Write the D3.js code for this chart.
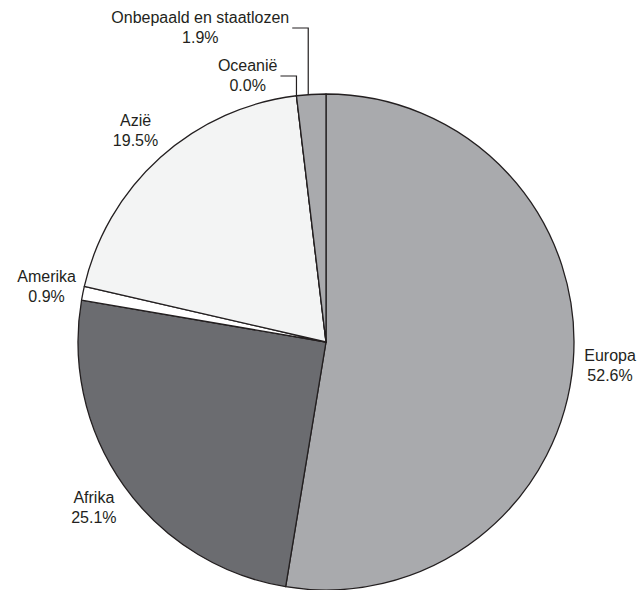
<!DOCTYPE html>
<html>
<head>
<meta charset="utf-8">
<script src="https://cdn.jsdelivr.net/npm/d3@7"></script>
<style>
  html, body { margin: 0; padding: 0; background: #ffffff; }
  svg { display: block; }
  text { font-family: "Liberation Sans", Arial, Helvetica, sans-serif; font-size: 16px; fill: #231f20; }
</style>
</head>
<body>
<svg id="chart" width="637" height="590"></svg>
<script>
const categories = ["Europa", "Afrika", "Amerika", "Azië", "Oceanië", "Onbepaald en staatlozen"];
const values = [52.6, 25.1, 0.9, 19.5, 0.0, 1.9];
const valueLabels = ["52.6%", "25.1%", "0.9%", "19.5%", "0.0%", "1.9%"];
const colors = ["#a9aaad", "#6b6c70", "#ffffff", "#f3f4f4", "#a9aaad", "#a9aaad"];

const W = 637, H = 590;
const cx = 326, cy = 342, R = 248;
const labelR = 285;
const lineH = 20;

const svg = d3.select("#chart");
const g = svg.append("g").attr("transform", `translate(${cx},${cy})`);

const data = categories.map((c, i) => ({ cat: c, value: values[i], label: valueLabels[i], color: colors[i] }));

const pie = d3.pie().value(d => d.value).sort(null);
const arcs = pie(data);
const arc = d3.arc().innerRadius(0).outerRadius(R);

g.selectAll("path.slice")
  .data(arcs)
  .enter()
  .append("path")
  .attr("class", "slice")
  .attr("d", arc)
  .attr("fill", d => d.data.color)
  .attr("stroke", "#231f20")
  .attr("stroke-width", 1.3)
  .attr("stroke-linejoin", "round");

// Labels with leader lines for the tiny slices near the top
const leader = {
  "Oceanië": { angle: a => a.startAngle, elbowY: 76 - cy, len: 16 },
  "Onbepaald en staatlozen": { angle: a => (a.startAngle + a.endAngle) / 2 - 0.012, elbowY: 28 - cy, len: 16 }
};

arcs.forEach(a => {
  const d = a.data;
  const lines = [d.cat, d.label];
  if (leader[d.cat]) {
    const L = leader[d.cat];
    const ang = L.angle(a);
    const px = R * Math.sin(ang), py = -R * Math.cos(ang);
    const ex = px, ey = L.elbowY;
    const tx = ex - L.len;
    g.append("path")
      .attr("d", `M${px},${py}L${ex},${ey}L${tx},${ey}`)
      .attr("fill", "none")
      .attr("stroke", "#231f20")
      .attr("stroke-width", 1.2);
    const textRight = tx - 3;
    const t = g.append("g");
    const tmp = lines.map((s, i) => t.append("text").attr("y", ey - 5 + i * lineH).text(s));
    const widths = tmp.map(n => n.node().getComputedTextLength());
    const maxW = Math.max(...widths);
    const centerX = textRight - maxW / 2;
    tmp.forEach(n => n.attr("x", centerX).attr("text-anchor", "middle"));
  } else {
    const mid = (a.startAngle + a.endAngle) / 2;
    const x = labelR * Math.sin(mid);
    const y = -labelR * Math.cos(mid);
    lines.forEach((s, i) => {
      g.append("text")
        .attr("x", x)
        .attr("y", y + (i - 0.5) * lineH + 6)
        .attr("text-anchor", "middle")
        .text(s);
    });
  }
});
</script>
</body>
</html>
